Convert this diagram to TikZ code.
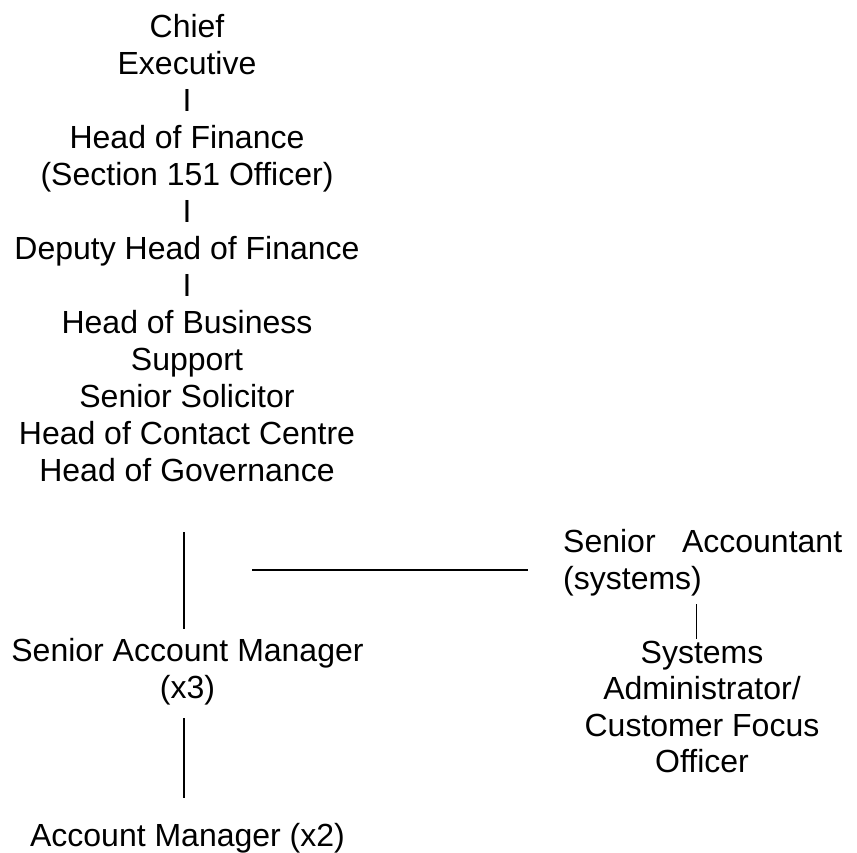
\documentclass[tikz,border=0pt]{standalone}
\usepackage{fontspec}
\setmainfont{Liberation Sans}
\begin{document}
\begin{tikzpicture}[x=1pt,y=-1pt,
  txt/.style={font=\fontsize{32}{37}\selectfont, inner sep=0pt, align=center, anchor=base},
  conn/.style={line width=1.3pt, black},
  thickconn/.style={line width=2pt, black},
  thinconn/.style={line width=1pt, black}]
\useasboundingbox (0,0) rectangle (857,853);
% base anchor of a multi-line centred node is the baseline of its last line
\node[txt] (top) at (187,481) {Chief\\Executive\\I\\Head of Finance\\(Section 151 Officer)\\I\\Deputy Head of Finance\\I\\Head of Business\\Support\\Senior Solicitor\\Head of Contact Centre\\Head of Governance};
\node[txt] (sam) at (187.5,698) {Senior Account Manager\\(x3)};
\node[txt] (am) at (187.5,846) {Account Manager (x2)};
\node[txt, align=left, text width=279pt, anchor=base west] (sa) at (563,552) {Senior\hfill Accountant\\(systems)};
\node[txt, font=\fontsize{32}{36.5}\selectfont] (sys) at (702,772.5) {Systems\\Administrator/\\Customer Focus\\Officer};
\coordinate (v1a) at (184,532);
\coordinate (v1b) at (184,629);
\coordinate (v2a) at (184,718);
\coordinate (v2b) at (184,798);
\coordinate (ha) at (252,570);
\coordinate (hb) at (528,570);
\coordinate (v3a) at (696,604);
\coordinate (v3b) at (696,639);
\draw[conn] (v1a) -- (v1b);
\draw[conn] (v2a) -- (v2b);
\draw[thickconn] (ha) -- (hb);
\draw[thinconn] (v3a) -- (v3b);
\end{tikzpicture}
\end{document}
